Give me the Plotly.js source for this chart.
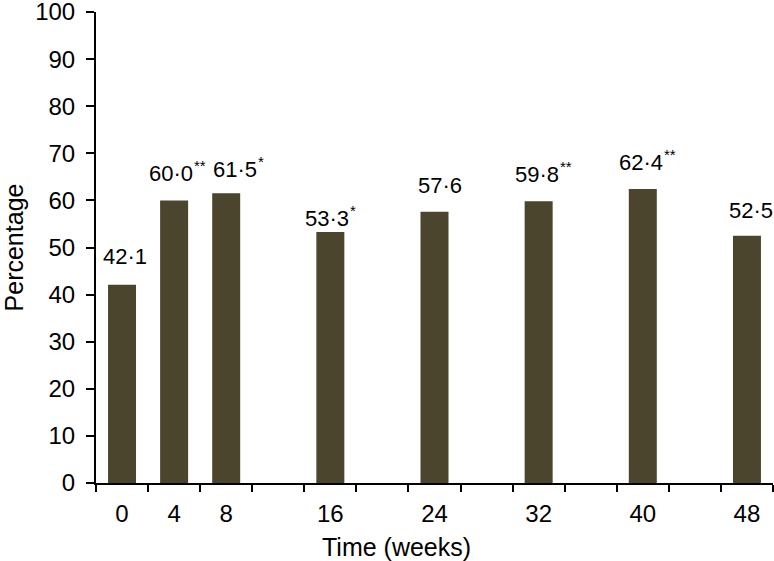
<!DOCTYPE html>
<html>
<head>
<meta charset="utf-8">
<script src="https://cdn.plot.ly/plotly-3.0.1.min.js"></script>
<style>
  body { margin: 0; background: #fff; }
  #chart { width: 774px; height: 561px; }
</style>
</head>
<body>
<div id="chart"></div>
<script>
// weeks and percentages
const weeks = [0, 4, 8, 16, 24, 32, 40, 48];
const percent = [42.1, 60.0, 61.5, 53.3, 57.6, 59.8, 62.4, 52.5];
const stars = ["", "**", "*", "*", "", "**", "**", ""];

// small hand nudges of the value labels (px), as in the original figure
const labelDx = [3, -3, 9, -3, 5, -2, -2, 4];
const labelDy = [2, 0, -3, -13, 0, 0, 0, -1];

const font = "Liberation Sans, Arial, sans-serif";
const barColor = "#4a452c";

const labels = [];
weeks.forEach((w, i) => {
    labels.push({
        x: w,
        y: percent[i],
        xref: "x",
        yref: "y",
        text: percent[i].toFixed(1).replace(".", "·"),
        showarrow: false,
        xanchor: "center",
        yanchor: "bottom",
        xshift: labelDx[i],
        yshift: 12 + labelDy[i],
        font: { family: font, size: 22, color: "#000" }
    });
    if (stars[i]) {
        labels.push({
            x: w,
            y: percent[i],
            xref: "x",
            yref: "y",
            text: stars[i],
            showarrow: false,
            xanchor: "left",
            yanchor: "bottom",
            xshift: labelDx[i] + 21,
            yshift: 24 + labelDy[i],
            font: { family: font, size: 15, color: "#000" }
        });
    }
});

labels.push({
    x: 0.4446,
    y: -0.136,
    xref: "paper",
    yref: "paper",
    text: "Time (weeks)",
    showarrow: false,
    yanchor: "middle",
    font: { family: font, size: 25, color: "#000" }
});

const trace = {
    x: weeks,
    y: percent,
    type: "bar",
    width: 2.15,
    marker: { color: barColor, line: { width: 0 } },
    hoverinfo: "skip"
};

// empty helper on the second x axis so its labels sit under the bars
const labelTrace = {
    x: weeks,
    y: weeks.map(() => null),
    xaxis: "x2",
    type: "scatter",
    mode: "markers",
    showlegend: false,
    hoverinfo: "skip"
};

const layout = {
    width: 774,
    height: 561,
    margin: { l: 96, r: 1, t: 12, b: 78 },
    paper_bgcolor: "#fff",
    plot_bgcolor: "#fff",
    showlegend: false,
    font: { family: font, size: 24, color: "#000" },
    xaxis: {
        range: [-2, 50],
        tick0: -2,
        dtick: 4,
        ticks: "outside",
        ticklen: 7,
        tickwidth: 2,
        tickcolor: "#000",
        showticklabels: false,
        showline: true,
        linecolor: "#000",
        linewidth: 2,
        showgrid: false,
        zeroline: false
    },
    xaxis2: {
        overlaying: "x",
        anchor: "y",
        side: "bottom",
        range: [-2, 50],
        tickmode: "array",
        tickvals: weeks,
        ticktext: weeks.map(String),
        ticks: "",
        ticklabelstandoff: 14,
        showline: false,
        showgrid: false,
        zeroline: false,
        tickfont: { family: font, size: 24, color: "#000" }
    },
    yaxis: {
        range: [0, 100],
        tickmode: "linear",
        tick0: 0,
        dtick: 10,
        ticks: "outside",
        ticklen: 8,
        tickwidth: 2,
        tickcolor: "#000",
        ticklabelstandoff: 6,
        ticklabeloverflow: "allow",
        showline: true,
        linecolor: "#000",
        linewidth: 2,
        showgrid: false,
        zeroline: false,
        tickfont: { family: font, size: 24, color: "#000" },
        title: { text: "Percentage", standoff: 10, font: { family: font, size: 25, color: "#000" } }
    },
    annotations: labels
};

Plotly.newPlot("chart", [trace, labelTrace], layout, { displayModeBar: false, staticPlot: true });
</script>
</body>
</html>
